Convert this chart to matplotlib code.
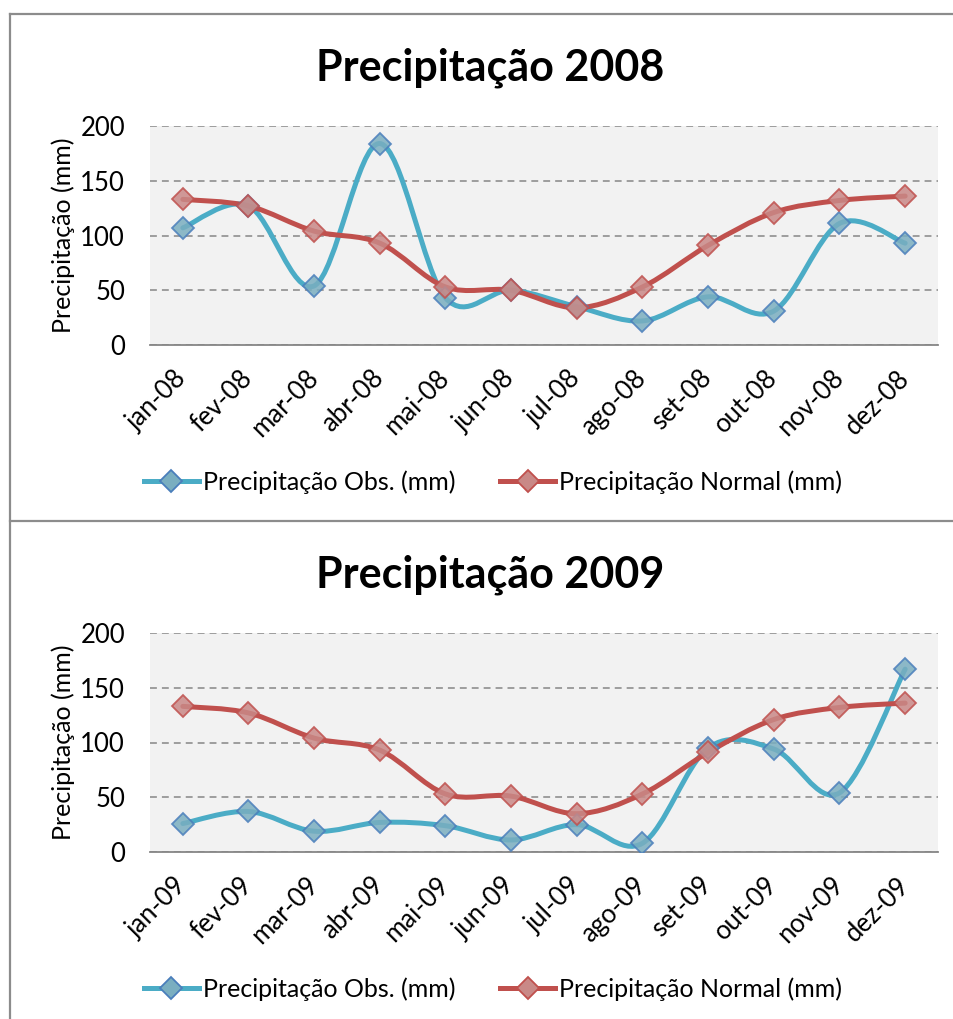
import numpy as np
import matplotlib
matplotlib.use("Agg")
import matplotlib.pyplot as plt
from matplotlib.path import Path
from matplotlib.patches import PathPatch
from matplotlib.lines import Line2D

plt.rcParams['font.family'] = ['Lato', 'DejaVu Sans']

meses_08 = ['jan-08', 'fev-08', 'mar-08', 'abr-08', 'mai-08', 'jun-08',
            'jul-08', 'ago-08', 'set-08', 'out-08', 'nov-08', 'dez-08']
meses_09 = ['jan-09', 'fev-09', 'mar-09', 'abr-09', 'mai-09', 'jun-09',
            'jul-09', 'ago-09', 'set-09', 'out-09', 'nov-09', 'dez-09']

obs_2008 = [107, 127, 54, 184, 43, 50, 35, 22, 44, 31, 111, 93]
normal_2008 = [133, 127, 104, 93, 53, 50, 34, 53, 91, 121, 132, 136]
obs_2009 = [26, 37, 19, 27, 24, 11, 25, 8, 95, 94, 54, 167]
normal_2009 = [133, 127, 104, 93, 53, 51, 35, 53, 91, 121, 132, 136]

azul = '#4BACC6'
vermelho = '#C0504D'
cinza = '#868686'
W, H = 954, 1019
FS = 18.5


def curva_suave(x, y):
    # bezier tipo Excel (catmull-rom)
    n = len(x)
    verts = [(x[0], y[0])]
    codes = [Path.MOVETO]
    for i in range(n - 1):
        xa, ya = (x[i - 1], y[i - 1]) if i > 0 else (x[i], y[i])
        xb, yb = (x[i + 2], y[i + 2]) if i + 2 < n else (x[i + 1], y[i + 1])
        c1 = (x[i] + (x[i + 1] - xa) / 6, y[i] + (y[i + 1] - ya) / 6)
        c2 = (x[i + 1] - (xb - x[i]) / 6, y[i + 1] - (yb - y[i]) / 6)
        verts += [c1, c2, (x[i + 1], y[i + 1])]
        codes += [Path.CURVE4] * 3
    return Path(verts, codes)


def grafico(fig, titulo, meses, obs, normal, top_px):
    # top_px = posicao em pixels do topo do bloco
    y200 = top_px + 112
    y0 = top_px + 331
    ax = fig.add_axes([150 / W, 1 - y0 / H, (938 - 150) / W, (y0 - y200) / H])
    ax.set_facecolor('#F2F2F2')
    x = np.arange(len(meses))

    for serie, cor, face, borda in [(obs, azul, '#7AAEC0', '#4A7EBB'),
                                    (normal, vermelho, '#C98987', '#C0504D')]:
        ax.add_patch(PathPatch(curva_suave(x, serie), fill=False, edgecolor=cor,
                               lw=3.6, capstyle='round', joinstyle='round', zorder=3))
        ax.plot(x, serie, ls='none', marker='D', ms=11.5, mfc=face, mec=borda,
                mew=1.3, alpha=0.85, zorder=4)

    ax.set_xlim(-0.5, len(meses) - 0.5)
    ax.set_ylim(0, 200)
    ax.set_yticks([0, 50, 100, 150, 200])
    ax.set_xticks(x)
    ax.set_xticklabels(meses, rotation=45, ha='right', va='center',
                       rotation_mode='anchor')
    ax.tick_params(axis='x', length=0, pad=21, labelsize=FS)
    ax.tick_params(axis='y', length=0, pad=18, labelsize=FS)
    ax.grid(axis='y', color=cinza, lw=1.1, linestyle=(0, (4.5, 3.3)))
    ax.set_axisbelow(True)
    for s in ['top', 'left', 'right']:
        ax.spines[s].set_visible(False)
    ax.spines['bottom'].set_color(cinza)
    ax.spines['bottom'].set_linewidth(1.3)
    ax.set_ylabel('Precipitação (mm)', fontsize=18, labelpad=4)

    fig.text(490 / W, 1 - (top_px + 54) / H, titulo, fontsize=31, fontweight='bold',
             ha='center', va='center')

    handles = [Line2D([], [], color=azul, lw=3.6, marker='D', ms=11.5,
                      mfc='#7AAEC0', mec='#4A7EBB', mew=1.3),
               Line2D([], [], color=vermelho, lw=3.6, marker='D', ms=11.5,
                      mfc='#C98987', mec='#C0504D', mew=1.3)]
    fig.legend(handles, ['Precipitação Obs. (mm)', 'Precipitação Normal (mm)'],
               loc='center', bbox_to_anchor=(493 / W, 1 - (top_px + 468) / H),
               ncol=2, frameon=False, fontsize=18, handlelength=2.2,
               handletextpad=0.15, columnspacing=1.8)
    return ax


fig = plt.figure(figsize=(W / 100, H / 100), dpi=100)
grafico(fig, 'Precipitação 2008', meses_08, obs_2008, normal_2008, 14)
grafico(fig, 'Precipitação 2009', meses_09, obs_2009, normal_2009, 521)

# bordas das caixas
borda = dict(color='#8C8C8C', lw=1.6, transform=fig.transFigure)
fig.add_artist(Line2D([10 / W, 1], [1 - 14 / H, 1 - 14 / H], **borda))
fig.add_artist(Line2D([10 / W, 1], [1 - 521 / H, 1 - 521 / H], **borda))
fig.add_artist(Line2D([10 / W, 10 / W], [1 - 14 / H, 0], **borda))

fig.savefig('out.png', dpi=100)
